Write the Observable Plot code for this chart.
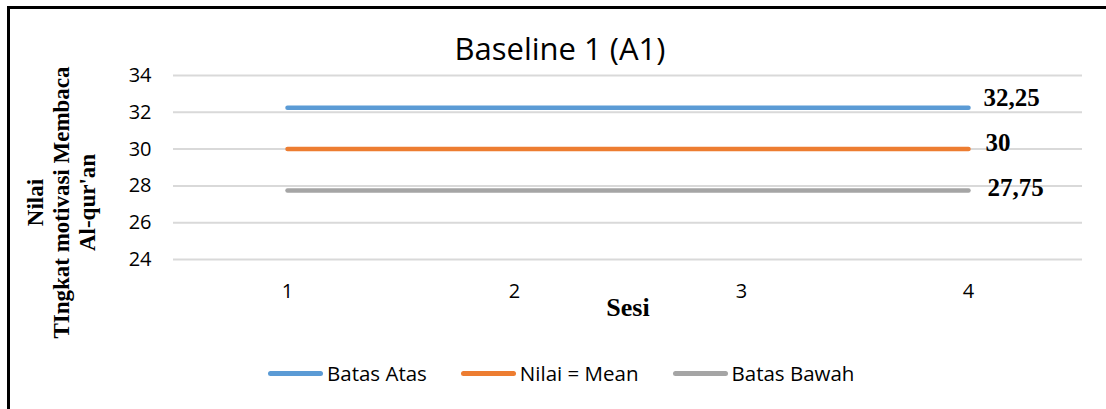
<!DOCTYPE html>
<html>
<head>
<meta charset="utf-8">
<script src="https://cdn.jsdelivr.net/npm/d3@7"></script>
<script src="https://cdn.jsdelivr.net/npm/@observablehq/plot@0.6"></script>
<style>
  html, body { margin: 0; padding: 0; background: #fff; }
  body { width: 1106px; height: 409px; overflow: hidden; position: relative; }
  #frame {
    position: absolute; left: 7px; top: 6px; width: 1200px; height: 500px;
    border-left: 3px solid #000; border-top: 3px solid #000; box-sizing: border-box;
  }
  #title {
    position: absolute; left: 0; top: 33px; width: 1120px; text-align: center;
    font-family: "Open Sans", sans-serif; font-size: 31px; line-height: 31px; color: #000;
  }
  #chart { position: absolute; left: 0; top: 62px; width: 1106px; }
  #legend {
    position: absolute; left: 268px; top: 358px; height: 30px;
    display: flex; align-items: center;
    font-family: "Open Sans", sans-serif; font-size: 20.5px; color: #000;
  }
  .item { display: flex; align-items: center; margin-right: 34px; }
  .swatch { width: 55px; height: 5px; border-radius: 3px; margin-right: 4px; }
</style>
</head>
<body>
<div id="frame"></div>
<div id="title">Baseline 1 (A1)</div>
<div id="chart"></div>
<div id="legend"></div>
<script>
// Sessions of baseline phase A1 and the three reference lines
const sessions = [1, 2, 3, 4];
const batasAtas = [32.25, 32.25, 32.25, 32.25];
const nilaiMean = [30, 30, 30, 30];
const batasBawah = [27.75, 27.75, 27.75, 27.75];
const seriesNames = ["Batas Atas", "Nilai = Mean", "Batas Bawah"];
const yTicks = [24, 26, 28, 30, 32, 34];

// Line colours and value-label offsets for each series
const seriesStyle = [
  {color: "#5B9BD5", dx: 15, dy: -10},
  {color: "#ED7D31", dx: 17, dy: -6},
  {color: "#A5A5A5", dx: 19, dy: -3}
];

const seriesValues = [batasAtas, nilaiMean, batasBawah];
const rows = seriesNames.flatMap((name, i) =>
  sessions.map((s, j) => ({seri: name, sesi: s, nilai: seriesValues[i][j]}))
);

const fmt = v => String(v).replace(".", ",");

const labelMarks = seriesNames.map((name, i) => {
  const last = rows.filter(d => d.seri === name).slice(-1);
  return Plot.text(last, {
    x: "sesi", y: "nilai", text: d => fmt(d.nilai),
    textAnchor: "start", dx: seriesStyle[i].dx, dy: seriesStyle[i].dy,
    fontFamily: "Liberation Serif", fontWeight: "bold", fontSize: 25, fill: "#000"
  });
});

const chart = Plot.plot({
  width: 1106,
  height: 267,
  marginTop: 13,
  marginBottom: 70,
  marginLeft: 173,
  marginRight: 24,
  style: {fontFamily: "Open Sans", fontSize: "20px", color: "#000", background: "transparent", overflow: "visible"},
  x: {type: "point", domain: sessions, padding: 0.5},
  y: {domain: [24, 34]},
  color: {domain: seriesNames, range: seriesStyle.map(s => s.color)},
  marks: [
    Plot.gridY(yTicks, {stroke: "#d9d9d9", strokeOpacity: 1, strokeWidth: 2}),
    Plot.axisY(yTicks, {
      tickSize: 0, tickPadding: 22, label: null, fill: "#000",
      fontSize: 20, fontFamily: "Open Sans"
    }),
    Plot.axisX(sessions, {
      tickSize: 0, tickPadding: 24, label: null, fill: "#000",
      fontSize: 20, fontFamily: "Open Sans"
    }),
    Plot.line(rows, {
      x: "sesi", y: "nilai", z: "seri", stroke: "seri",
      strokeWidth: 4.5, strokeLinecap: "round"
    }),
    ...labelMarks,
    Plot.text(["Sesi"], {
      frameAnchor: "bottom", text: d => d, dy: 56,
      fontFamily: "Liberation Serif", fontWeight: "bold", fontSize: 26, fill: "#000"
    }),
    Plot.text(["Nilai\nTIngkat motivasi Membaca\nAl-qur'an"], {
      frameAnchor: "left", text: d => d, rotate: -90, dx: -113, dy: 35,
      lineHeight: 1.13, textAnchor: "middle",
      fontFamily: "Liberation Serif", fontWeight: "bold", fontSize: 23, fill: "#000"
    })
  ]
});
document.getElementById("chart").appendChild(chart);

// Legend below the plot
const legend = document.getElementById("legend");
seriesNames.forEach((name, i) => {
  const item = document.createElement("div");
  item.className = "item";
  const sw = document.createElement("span");
  sw.className = "swatch";
  sw.style.background = seriesStyle[i].color;
  const label = document.createElement("span");
  label.textContent = name;
  item.appendChild(sw);
  item.appendChild(label);
  legend.appendChild(item);
});
</script>
</body>
</html>
